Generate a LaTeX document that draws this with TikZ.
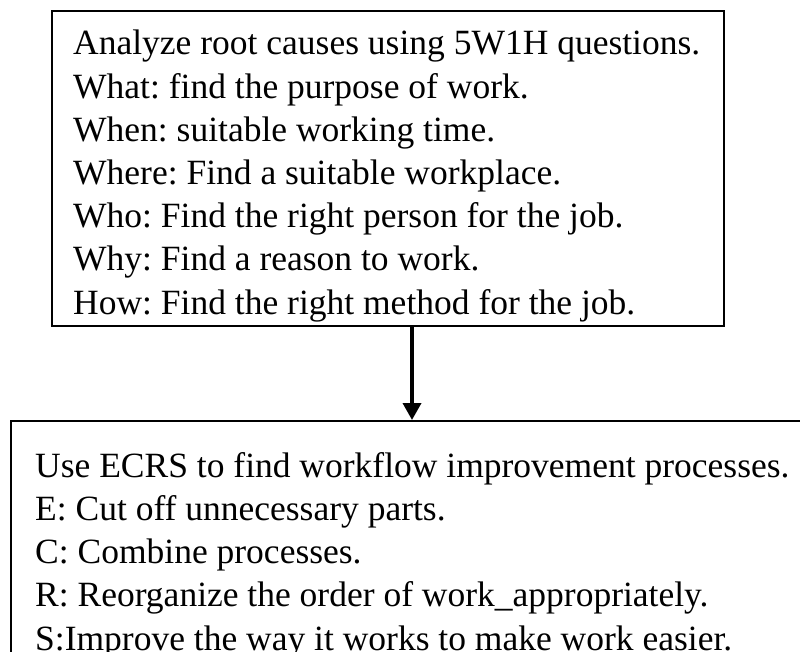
\documentclass[tikz,border=0pt]{standalone}
\usepackage{fontspec}
\setmainfont{Liberation Serif}
\usetikzlibrary{arrows.meta}
\frenchspacing
\begin{document}
\begin{tikzpicture}[x=1pt,y=-1pt,
  boxline/.style={draw=black,line width=1.6pt},
  boxtext/.style={anchor=north west,inner sep=0pt,align=left,font=\fontsize{35.5}{43.2}\selectfont},
  flow/.style={line width=3.6pt,-{Triangle[width=18pt,length=17pt]}}]
\useasboundingbox (0,0) rectangle (800,652);
\clip (0,0) rectangle (800,652);
\node[boxline,anchor=north west,minimum width=672pt,minimum height=315pt,inner sep=0pt] (top) at (51,10) {};
\node[boxtext] (toptext) at (73,30) {Analyze root causes using 5W1H questions.\\
What: find the purpose of work.\\
When: suitable working time.\\
Where: Find a suitable workplace.\\
Who: Find the right person for the job.\\
Why: Find a reason to work.\\
How: Find the right method for the job.};
\node[boxline,anchor=north west,minimum width=820pt,minimum height=300pt,inner sep=0pt] (bottom) at (10,420) {};
\node[boxtext] (bottomtext) at (35,452) {Use ECRS to find workflow improvement processes.\\
E: Cut off unnecessary parts.\\
C: Combine processes.\\
R: Reorganize the order of work\_appropriately.\\
S:Improve the way it works to make work easier.};
\coordinate (a1) at (412,0);
\draw[flow] (top.south -| a1) -- (bottom.north -| a1);
\end{tikzpicture}
\end{document}
